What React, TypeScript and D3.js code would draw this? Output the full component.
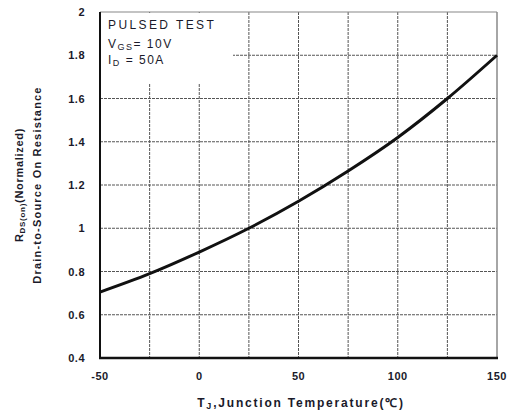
import React from "react";
import * as d3 from "d3";

const temps = [-50, -25, 0, 25, 50, 75, 100, 125, 150];
const rdson = [0.705, 0.79, 0.89, 1.0, 1.125, 1.265, 1.42, 1.6, 1.8];
const xTicks = [-50, 0, 50, 100, 150];
const xGrid = [-25, 0, 25, 50, 75, 100, 125];
const yTicks = [0.4, 0.6, 0.8, 1, 1.2, 1.4, 1.6, 1.8, 2];

export default function App() {
  const W = 515, H = 415;
  const L = 100, R = 497, T = 12, B = 358;
  const x = d3.scaleLinear().domain([-50, 150]).range([L, R]);
  const y = d3.scaleLinear().domain([0.4, 2]).range([B, T]);
  const line = d3
    .line<number>()
    .x((_, i) => x(temps[i]))
    .y((d) => y(d))
    .curve(d3.curveCatmullRom);
  const font = "Arial, 'Liberation Sans', sans-serif";
  const txt = "#1a1a2a";
  return (
    <svg width={W} height={H} style={{ position: "absolute", left: 0, top: 0 }} fontFamily={font}>
      <rect width={W} height={H} fill="#fff" />
      {xGrid.map((t) => (
        <line key={"gx" + t} x1={x(t)} x2={x(t)} y1={T} y2={B} stroke="#555" strokeWidth={1} strokeDasharray="3,1" />
      ))}
      {yTicks.slice(1, -1).map((t) => (
        <line key={"gy" + t} x1={L} x2={R} y1={y(t)} y2={y(t)} stroke="#555" strokeWidth={1} strokeDasharray="3,1" />
      ))}
      {/* top/right frame */}
      <line x1={L} x2={R} y1={T} y2={T} stroke="#888" strokeWidth={1.2} />
      <line x1={R} x2={R} y1={T} y2={B} stroke="#888" strokeWidth={1.5} />
      {/* legend box background */}
      <rect x={L + 1} y={T + 1} width={132} height={70} fill="#fff" />
      <path d={line(rdson) || ""} fill="none" stroke="#111" strokeWidth={3} />
      {/* left/bottom axes */}
      <line x1={L} x2={L} y1={T} y2={B + 1} stroke="#111" strokeWidth={2} />
      <line x1={L - 1} x2={R + 1} y1={B} y2={B} stroke="#111" strokeWidth={2.5} />
      {yTicks.map((t) => (
        <text key={"yt" + t} x={85} y={y(t) + 4} textAnchor="end" fontSize={11} fontWeight="bold" fill={txt} letterSpacing={0.5}>
          {String(t)}
        </text>
      ))}
      {xTicks.map((t) => (
        <text key={"xt" + t} x={x(t)} y={380} textAnchor="middle" fontSize={11} fontWeight="bold" fill={txt} letterSpacing={0.5}>
          {String(t)}
        </text>
      ))}
      <text x={108} y={29} fontSize={12} fill={txt} letterSpacing={2.4}>PULSED TEST</text>
      <text x={108} y={48} fontSize={12} fill={txt} letterSpacing={1.5}>
        V<tspan fontSize={9} dy={2}>GS</tspan><tspan dy={-2}>= 10V</tspan>
      </text>
      <text x={108} y={64} fontSize={12} fill={txt} letterSpacing={1.5}>
        I<tspan fontSize={9} dy={2}>D</tspan><tspan dy={-2}> = 50A</tspan>
      </text>
      <text x={301} y={407} textAnchor="middle" fontSize={12} fontWeight="bold" fill={txt} letterSpacing={1.8}>
        T<tspan fontSize={9} dy={2}>J</tspan><tspan dy={-2}>,Junction Temperature(℃)</tspan>
      </text>
      <g transform="translate(23,185) rotate(-90)">
        <text x={0} y={0} textAnchor="middle" fontSize={11} fontWeight="bold" fill={txt} letterSpacing={0.7}>
          R<tspan fontSize={8} dy={2}>DS(on)</tspan><tspan dy={-2}>(Normalized)</tspan>
        </text>
        <text x={0} y={18} textAnchor="middle" fontSize={11} fontWeight="bold" fill={txt} letterSpacing={1.2}>
          Drain-to-Source On Resistance
        </text>
      </g>
    </svg>
  );
}
